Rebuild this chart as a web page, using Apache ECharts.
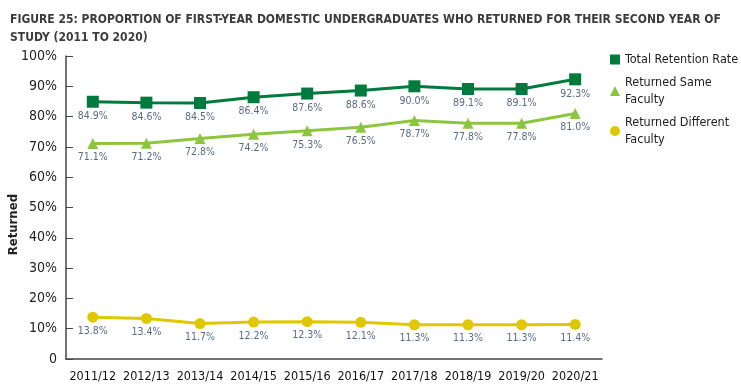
<!DOCTYPE html>
<html><head><meta charset="utf-8">
<script src="https://cdn.jsdelivr.net/npm/echarts@6/dist/echarts.min.js"></script>
<style>html,body{margin:0;padding:0;background:#fff}#c{width:741px;height:389px}</style>
</head><body><div id="c"></div>
<script>
const categories = ['2011/12','2012/13','2013/14','2014/15','2015/16','2016/17','2017/18','2018/19','2019/20','2020/21'];
const totalRetention = [84.9,84.6,84.5,86.4,87.6,88.6,90.0,89.1,89.1,92.3];
const returnedSame = [71.1,71.2,72.8,74.2,75.3,76.5,78.7,77.8,77.8,81.0];
const returnedDifferent = [13.8,13.4,11.7,12.2,12.3,12.1,11.3,11.3,11.3,11.4];
const seriesNames = ['Total Retention Rate','Returned Same Faculty','Returned Different Faculty'];

const FONT = '"DejaVu Sans Condensed","Liberation Sans Narrow",sans-serif';
const chart = echarts.init(document.getElementById('c'));
const lbl = {show:true, position:'bottom', distance:3, color:'#5b6b82', fontSize:10.5, fontFamily:FONT, formatter:p=>p.value.toFixed(1)+'%'};
function mk(name,data,color,symbol,size){
  return {name, type:'line', data, symbol, symbolSize:size, color,
    lineStyle:{width:3,color}, itemStyle:{color}, label:lbl, animation:false, z:3};
}
chart.setOption({
  animation:false,
  title:{text:'FIGURE 25: PROPORTION OF FIRST-YEAR DOMESTIC UNDERGRADUATES WHO RETURNED FOR THEIR SECOND YEAR OF\nSTUDY (2011 TO 2020)',
    left:5, top:6, textStyle:{fontFamily:FONT, fontSize:12, fontWeight:'bold', color:'#3c3c3c', lineHeight:18}},
  grid:{left:66, right:139, top:56, bottom:30},
  legend:{orient:'vertical', left:605, top:46, itemWidth:10, itemHeight:10, itemGap:6,
    textStyle:{fontFamily:FONT, fontSize:12.5, color:'#222', lineHeight:17},
    formatter:n=>n==='Returned Same Faculty'?'Returned Same\nFaculty':(n==='Returned Different Faculty'?'Returned Different\nFaculty':n),
    data:[{name:seriesNames[0],icon:'rect'},{name:seriesNames[1],icon:'triangle'},{name:seriesNames[2],icon:'circle'}]},
  xAxis:{type:'category', data:categories, boundaryGap:true,
    axisLine:{lineStyle:{color:'#444',width:1.5}},
    axisTick:{inside:true, length:6, lineStyle:{color:'#444'}},
    axisLabel:{interval:0, color:'#111', fontSize:12.5, fontFamily:FONT, margin:11}},
  yAxis:{type:'value', min:0, max:100, interval:10,
    axisLine:{show:true, lineStyle:{color:'#444',width:1.5}},
    axisTick:{show:true, inside:true, length:7, lineStyle:{color:'#444'}},
    splitLine:{show:false},
    axisLabel:{color:'#222', fontSize:14, fontFamily:FONT, margin:9, formatter:v=>v===0?'0':v+'%'}},
  graphic:[{type:'text', left:7, top:194, rotation:Math.PI/2,
    style:{text:'Returned', font:'bold 13px '+FONT, fill:'#222'}}],
  series:[
    mk(seriesNames[0], totalRetention, '#007a3d', 'rect', 12),
    mk(seriesNames[1], returnedSame, '#8cc63f', 'triangle', 11),
    mk(seriesNames[2], returnedDifferent, '#e0c800', 'circle', 11)
  ]
});
</script></body></html>
